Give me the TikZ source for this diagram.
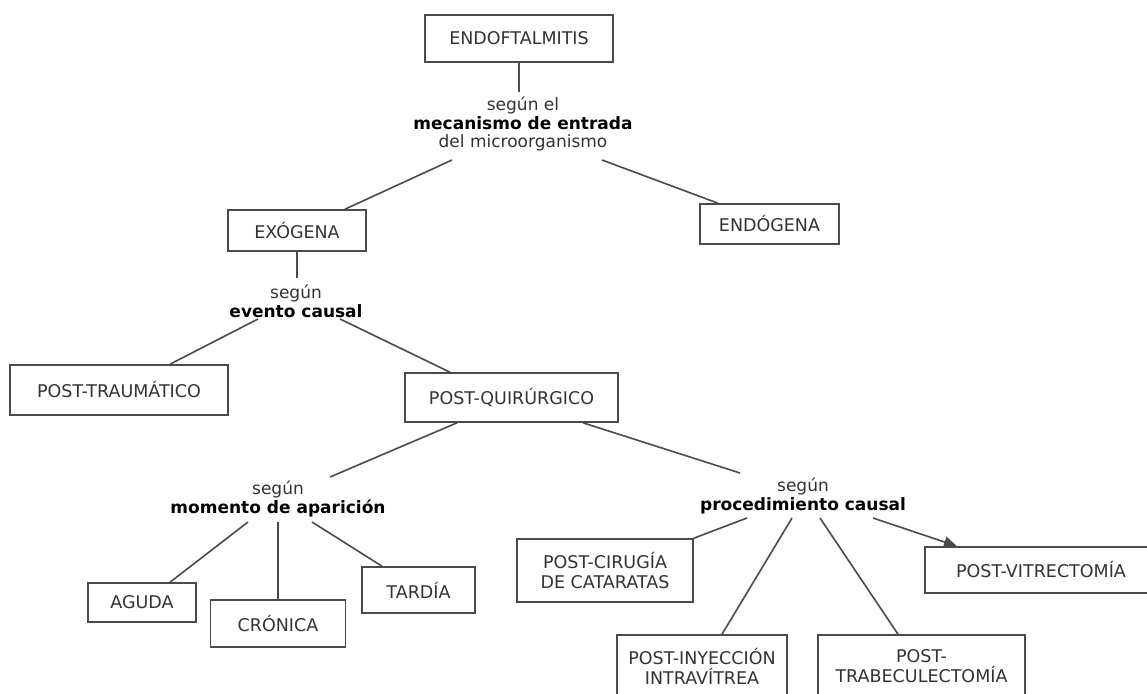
\documentclass[tikz,border=0pt]{standalone}
\usepackage{fontspec}
\setmainfont{DejaVu Sans}
\usetikzlibrary{arrows.meta}
\definecolor{boxline}{HTML}{4A4A4A}
\definecolor{txt}{HTML}{333333}
\tikzset{
  box/.style={draw=boxline, line width=1.6pt, text=txt, font=\fontsize{17.5}{20}\selectfont, align=center, inner sep=0pt, anchor=center},
  lbl/.style={text=txt, font=\fontsize{17}{18.5}\selectfont, align=center, inner sep=0pt, anchor=center},
  conn/.style={draw=boxline, line width=1.6pt},
  arrowconn/.style={conn, -{Triangle[length=13pt,width=11pt]}},
}
\newcommand{\bl}[1]{\textcolor{black}{\textbf{#1}}}
\begin{document}
\begin{tikzpicture}[x=1pt,y=-1pt]
\useasboundingbox (0,0) rectangle (1147,693);
\clip (0,0) rectangle (1147,693);
\fill[white] (0,0) rectangle (1147,693);

% boxes
\node[box, minimum width=188pt, minimum height=47pt] (endo) at (519,38.5) {ENDOFTALMITIS};
\node[box, minimum width=138pt, minimum height=41pt] (exo) at (297,230.5) {EXÓGENA};
\node[box, minimum width=139pt, minimum height=40pt] (endg) at (769.5,224) {ENDÓGENA};
\node[box, minimum width=218pt, minimum height=50pt] (ptrau) at (119,390) {POST-TRAUMÁTICO};
\node[box, minimum width=213pt, minimum height=49pt] (pquir) at (511.5,397.5) {POST-QUIRÚRGICO};
\node[box, minimum width=108pt, minimum height=39pt] (aguda) at (142,602.5) {AGUDA};
\node[box, minimum width=135pt, minimum height=47pt] (cron) at (278,623.5) {CRÓNICA};
\node[box, minimum width=113pt, minimum height=46pt] (tard) at (418.5,590) {TARDÍA};
\node[box, minimum width=176pt, minimum height=63pt] (pcir) at (605,570.5) {POST-CIRUGÍA\\DE CATARATAS};
\node[box, minimum width=170pt, minimum height=63pt] (piny) at (702,666.5) {POST-INYECCIÓN\\INTRAVÍTREA};
\node[box, minimum width=207pt, minimum height=63pt] (ptrab) at (921.5,666.5) {POST-\\TRABECULECTOMÍA};
\node[box, minimum width=232pt, minimum height=46pt] (pvit) at (1041,570) {POST-VITRECTOMÍA};

% labels
\node[lbl] (l1) at (523,124) {según el\\\bl{mecanismo de entrada}\\del microorganismo};
\node[lbl] (l2) at (296,301.5) {según\\\bl{evento causal}};
\node[lbl] (l3) at (278,499) {según\\\bl{momento de aparición}};
\node[lbl] (l4) at (803,496) {según\\\bl{procedimiento causal}};

% connectors
\draw[conn] (endo.south) -- ([shift={(-4,-32)}]l1.center);
\draw[conn] ([shift={(-71,36)}]l1.center) -- ([xshift=48pt]exo.north);
\draw[conn] ([shift={(79,36)}]l1.center) -- ([xshift=-51.5pt]endg.north);

\draw[conn] (exo.south) -- ([shift={(1,-23.5)}]l2.center);
\draw[conn] ([shift={(-38,17.5)}]l2.center) -- ([xshift=51pt]ptrau.north);
\draw[conn] ([shift={(44,17.5)}]l2.center) -- ([xshift=-61.5pt]pquir.north);

\draw[conn] ([xshift=-54.5pt]pquir.south) -- ([shift={(52,-22)}]l3.center);
\draw[conn] ([shift={(-30,23)}]l3.center) -- ([xshift=28pt]aguda.north);
\draw[conn] ([shift={(0,23)}]l3.center) -- (cron.north);
\draw[conn] ([shift={(34,23)}]l3.center) -- ([xshift=-36.5pt]tard.north);

\draw[conn] ([xshift=71.5pt]pquir.south) -- ([shift={(-63,-23)}]l4.center);
\draw[conn] ([shift={(-56,22)}]l4.center) -- (pcir.north east);
\draw[conn] ([shift={(-11,22)}]l4.center) -- ([xshift=20pt]piny.north);
\draw[conn] ([shift={(17,22)}]l4.center) -- ([xshift=-23.5pt]ptrab.north);
\draw[arrowconn] ([shift={(70,22)}]l4.center) -- ([xshift=-84pt]pvit.north);
\end{tikzpicture}
\end{document}
